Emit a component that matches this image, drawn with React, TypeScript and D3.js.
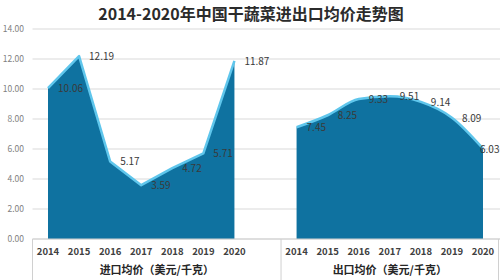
import React from "react";
import * as d3 from "d3";

const years = ["2014", "2015", "2016", "2017", "2018", "2019", "2020"];
const importPrice = [10.06, 12.19, 5.17, 3.59, 4.72, 5.71, 11.87];
const exportPrice = [7.45, 8.25, 9.33, 9.51, 9.14, 8.09, 6.03];
const yTicks = [0, 2, 4, 6, 8, 10, 12, 14];
const groupLabels = ["进口均价（美元/千克）", "出口均价（美元/千克）"];
const title = "2014-2020年中国干蔬菜进出口均价走势图";

const W = 500;
const H = 280;
const FILL = "#0f72a0";
const LINE = "#5fc6ec";

export default function App() {
  const keys = [...years.map((y) => "L" + y), "gap", ...years.map((y) => "R" + y)];
  const x = d3.scalePoint<string>().domain(keys).range([48, 483]);
  const y = d3.scaleLinear().domain([0, 14]).range([239, 29]);
  const step = x.step();
  const plotLeft = 32.5;
  const plotRight = 498.5;
  const divider = (x("gap") as number) + step / 2;

  const leftPts = importPrice.map((v, i) => [x("L" + years[i]) as number, y(v)] as [number, number]);
  const rightPts = exportPrice.map((v, i) => [x("R" + years[i]) as number, y(v)] as [number, number]);

  const areaL = d3.area<[number, number]>().x((d) => d[0]).y0(y(0)).y1((d) => d[1]);
  const lineL = d3.line<[number, number]>().x((d) => d[0]).y((d) => d[1]);
  const areaR = d3
    .area<[number, number]>()
    .x((d) => d[0])
    .y0(y(0))
    .y1((d) => d[1])
    .curve(d3.curveMonotoneX);
  const lineR = d3
    .line<[number, number]>()
    .x((d) => d[0])
    .y((d) => d[1])
    .curve(d3.curveMonotoneX);

  const font = "'Noto Sans CJK SC', 'Noto Sans', sans-serif";

  return (
    <svg width={W} height={H} style={{ position: "absolute", left: 0, top: 0, background: "#fff" }}>
      <text x={251} y={20} textAnchor="middle" fontFamily={font} fontWeight={700} fontSize={16} fill="#2b2b2b">
        {title}
      </text>
      {yTicks.map((t) => (
        <g key={t}>
          <line x1={plotLeft} x2={W} y1={y(t)} y2={y(t)} stroke="#d9d9d9" strokeWidth={1} />
          <text x={24} y={y(t) + 3} textAnchor="end" fontFamily={font} fontSize={8.5} fill="#7f7f7f">
            {t.toFixed(2)}
          </text>
        </g>
      ))}
      <path d={areaL(leftPts) || ""} fill={FILL} />
      <path d={lineL(leftPts) || ""} fill="none" stroke={LINE} strokeWidth={2.5} strokeLinejoin="round" />
      <path d={areaR(rightPts) || ""} fill={FILL} />
      <path d={lineR(rightPts) || ""} fill="none" stroke={LINE} strokeWidth={2.5} strokeLinejoin="round" />
      <line x1={plotLeft} x2={W} y1={y(0)} y2={y(0)} stroke="#d0d0d0" />
      {[plotLeft, divider, plotRight].map((vx, i) => (
        <line key={i} x1={vx} x2={vx} y1={y(0)} y2={H} stroke="#d0d0d0" />
      ))}
      {leftPts.map((p, i) => (
        <text key={"l" + i} x={p[0] + 10} y={p[1] + 4} fontFamily={font} fontSize={10} fill="#3a3a3a">
          {importPrice[i].toFixed(2)}
        </text>
      ))}
      {rightPts.map((p, i) => (
        <text key={"r" + i} x={Math.min(p[0] + 10, 480)} y={p[1] + 4} fontFamily={font} fontSize={10} fill="#3a3a3a">
          {exportPrice[i].toFixed(2)}
        </text>
      ))}
      {years.map((yr) => (
        <g key={yr}>
          <text x={x("L" + yr) as number} y={255} textAnchor="middle" fontFamily={font} fontWeight={700} fontSize={9.5} fill="#404040">
            {yr}
          </text>
          <text x={x("R" + yr) as number} y={255} textAnchor="middle" fontFamily={font} fontWeight={700} fontSize={9.5} fill="#404040">
            {yr}
          </text>
        </g>
      ))}
      <text x={(plotLeft + divider) / 2} y={274} textAnchor="middle" fontFamily={font} fontWeight={700} fontSize={11} fill="#262626">
        {groupLabels[0]}
      </text>
      <text x={(divider + plotRight) / 2} y={274} textAnchor="middle" fontFamily={font} fontWeight={700} fontSize={11} fill="#262626">
        {groupLabels[1]}
      </text>
    </svg>
  );
}
